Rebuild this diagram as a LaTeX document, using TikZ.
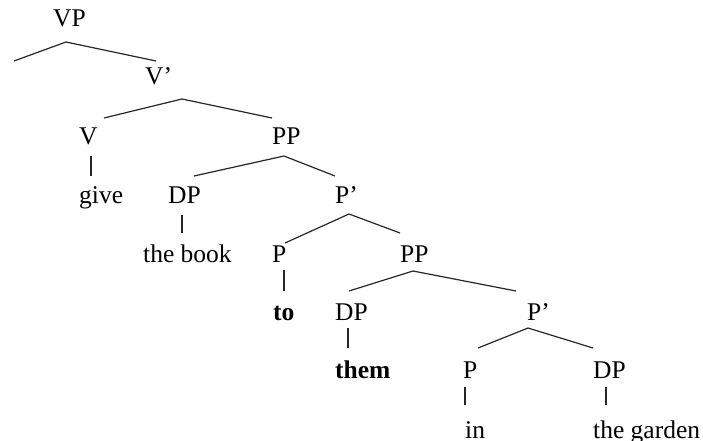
\documentclass[tikz,border=0pt]{standalone}
\usepackage{fontspec}
\setmainfont{Liberation Serif}
\begin{document}
\begin{tikzpicture}[x=1pt,y=-1pt,
  lab/.style={inner sep=0pt,anchor=base west,font=\fontsize{25.5}{30}\selectfont},
  branch/.style={draw=black!85,line width=1.2pt}]
\useasboundingbox (0,0) rectangle (703,441);
% labels
\node[lab] (VP) at (53,27) {VP};
\node[lab] (Vbar) at (145,85) {V’};
\node[lab] (V) at (79,144) {V};
\node[lab] (PP1) at (272,144) {PP};
\node[lab] (give) at (79,203) {give};
\node[lab] (DP1) at (168,203) {DP};
\node[lab] (Pbar1) at (335,203) {P’};
\node[lab] (book) at (143,262) {the book};
\node[lab] (P1) at (272,262) {P};
\node[lab] (PP2) at (400,262) {PP};
\node[lab] (to) at (273,320) {\bfseries to};
\node[lab] (DP2) at (335,320) {DP};
\node[lab] (Pbar2) at (527,320) {P’};
\node[lab] (them) at (335,378) {\bfseries them};
\node[lab] (P2) at (463,378) {P};
\node[lab] (DP3) at (593,378) {DP};
\node[lab] (in) at (465,438) {in};
\node[lab] (garden) at (593,438) {the garden};
% branch points
\coordinate (aVP) at (66,42);
\coordinate (free) at (14,61);
\coordinate (tVbar) at (156,61);
\coordinate (aVbar) at (182,99);
\coordinate (tV) at (104,118);
\coordinate (tPP1) at (272,118);
\coordinate (bV) at (91,156);
\coordinate (tgive) at (91,176);
\coordinate (aPP1) at (284,156);
\coordinate (tDP1) at (194,176);
\coordinate (tPbar1) at (335,176);
\coordinate (bDP1) at (182,215);
\coordinate (tbook) at (182,233);
\coordinate (aPbar1) at (349,214);
\coordinate (tP1) at (285,243);
\coordinate (tPP2) at (400,233);
\coordinate (bP1) at (284,270);
\coordinate (tto) at (284,291);
\coordinate (aPP2) at (413,271);
\coordinate (tDP2) at (349,291);
\coordinate (tPbar2) at (516,291);
\coordinate (bDP2) at (348,328);
\coordinate (tthem) at (348,348);
\coordinate (aPbar2) at (528,328);
\coordinate (tP2) at (478,348);
\coordinate (tDP3) at (593,348);
\coordinate (bP2) at (465,387);
\coordinate (tin) at (465,405);
\coordinate (bDP3) at (606,387);
\coordinate (tgarden) at (606,405);
% branches
\draw[branch] (free) -- (aVP) -- (tVbar);
\draw[branch] (tV) -- (aVbar) -- (tPP1);
\draw[branch] (bV) -- (tgive);
\draw[branch] (tDP1) -- (aPP1) -- (tPbar1);
\draw[branch] (bDP1) -- (tbook);
\draw[branch] (tP1) -- (aPbar1) -- (tPP2);
\draw[branch] (bP1) -- (tto);
\draw[branch] (tDP2) -- (aPP2) -- (tPbar2);
\draw[branch] (bDP2) -- (tthem);
\draw[branch] (tP2) -- (aPbar2) -- (tDP3);
\draw[branch] (bP2) -- (tin);
\draw[branch] (bDP3) -- (tgarden);
\end{tikzpicture}
\end{document}
